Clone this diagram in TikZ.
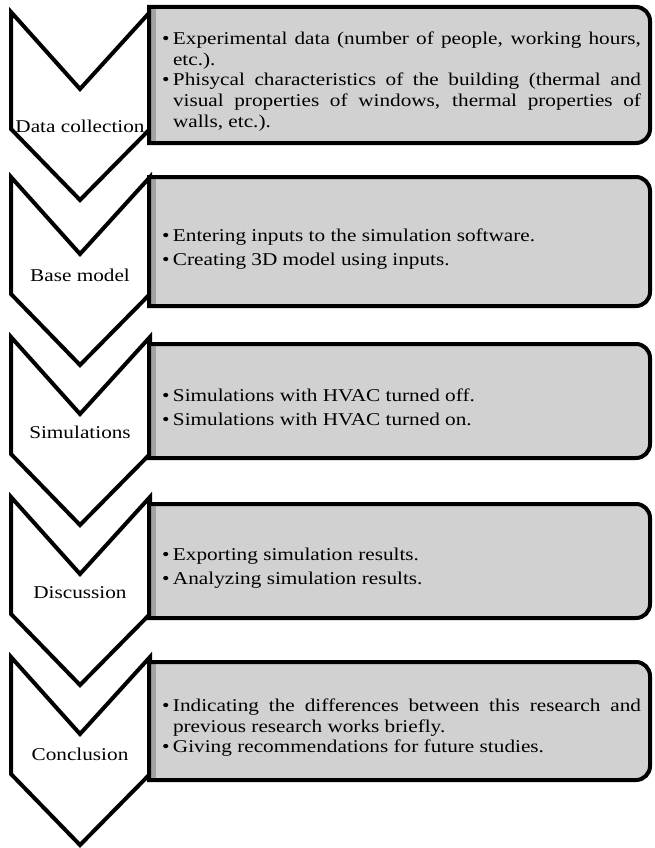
\documentclass[tikz,border=0pt]{standalone}
\usepackage{fontspec}
\setmainfont{Liberation Serif}[FakeStretch=1.18]
\usetikzlibrary{positioning}
\definecolor{panel}{HTML}{D1D1D1}
\definecolor{bevel}{HTML}{A3A3A3}
\newcommand{\bitem}[1]{\par\noindent\makebox[11pt][l]{\textbullet}\parbox[t]{468pt}{#1}}

\begin{document}
\begin{tikzpicture}[x=1pt,y=-1pt,
  chev/.style={draw=black,fill=white,line width=4pt},
  lbl/.style={font=\fontsize{18}{21}\selectfont,anchor=base,inner sep=0pt},
  txt/.style={font=\fontsize{18}{21}\selectfont,text width=479pt,align=justify,inner sep=0pt,
    execute at begin node=\setlength{\parskip}{3pt}}]
  \useasboundingbox (0,0) rectangle (655,848);

  % Chevrons
  \foreach \t in {10,175,335,495,655} {
    \draw[chev] (11,\t+2) -- (80,\t+79) -- (150,\t+2) -- (150,\t+119) -- (80,\t+190) -- (11,\t+119) -- cycle;
  }
  \node[lbl] (c1) at (80,132) {Data collection};
  \node[lbl] (c2) at (80,281) {Base model};
  \node[lbl] (c3) at (80,438) {Simulations};
  \node[lbl] (c4) at (80,598) {Discussion};
  \node[lbl] (c5) at (80,760) {Conclusion};

  % Panels
  \foreach \t/\b in {7/143,177/306,344/458,504/618,662/780} {
    \fill[panel] (149,\t) -- (636,\t) arc[start angle=270,end angle=360,radius=14] -- (650,\b-14) arc[start angle=0,end angle=90,radius=14] -- (149,\b) -- cycle;
    \fill[bevel] (151,\t+2) rectangle (156,\b-2);
    \draw[line width=4pt] (149,\t) -- (636,\t) arc[start angle=270,end angle=360,radius=14] -- (650,\b-14) arc[start angle=0,end angle=90,radius=14] -- (149,\b) -- cycle;
  }

  \node[txt] (p1) at (401.5,76) {\bitem{Experimental data (number of people, working hours,\linebreak etc.).}
    \bitem{Phisycal characteristics of the building (thermal and\linebreak visual properties of windows, thermal properties of\linebreak walls, etc.).}};
  \node[txt] (p2) at (401.5,243) {\bitem{Entering inputs to the simulation software.}
    \bitem{Creating 3D model using inputs.}};
  \node[txt] (p3) at (401.5,402) {\bitem{Simulations with HVAC turned off.}
    \bitem{Simulations with HVAC turned on.}};
  \node[txt] (p4) at (401.5,562) {\bitem{Exporting simulation results.}
    \bitem{Analyzing simulation results.}};
  \node[txt] (p5) at (401.5,722) {\bitem{Indicating the differences between this research and\linebreak previous research works briefly.}
    \bitem{Giving recommendations for future studies.}};
\end{tikzpicture}
\end{document}
